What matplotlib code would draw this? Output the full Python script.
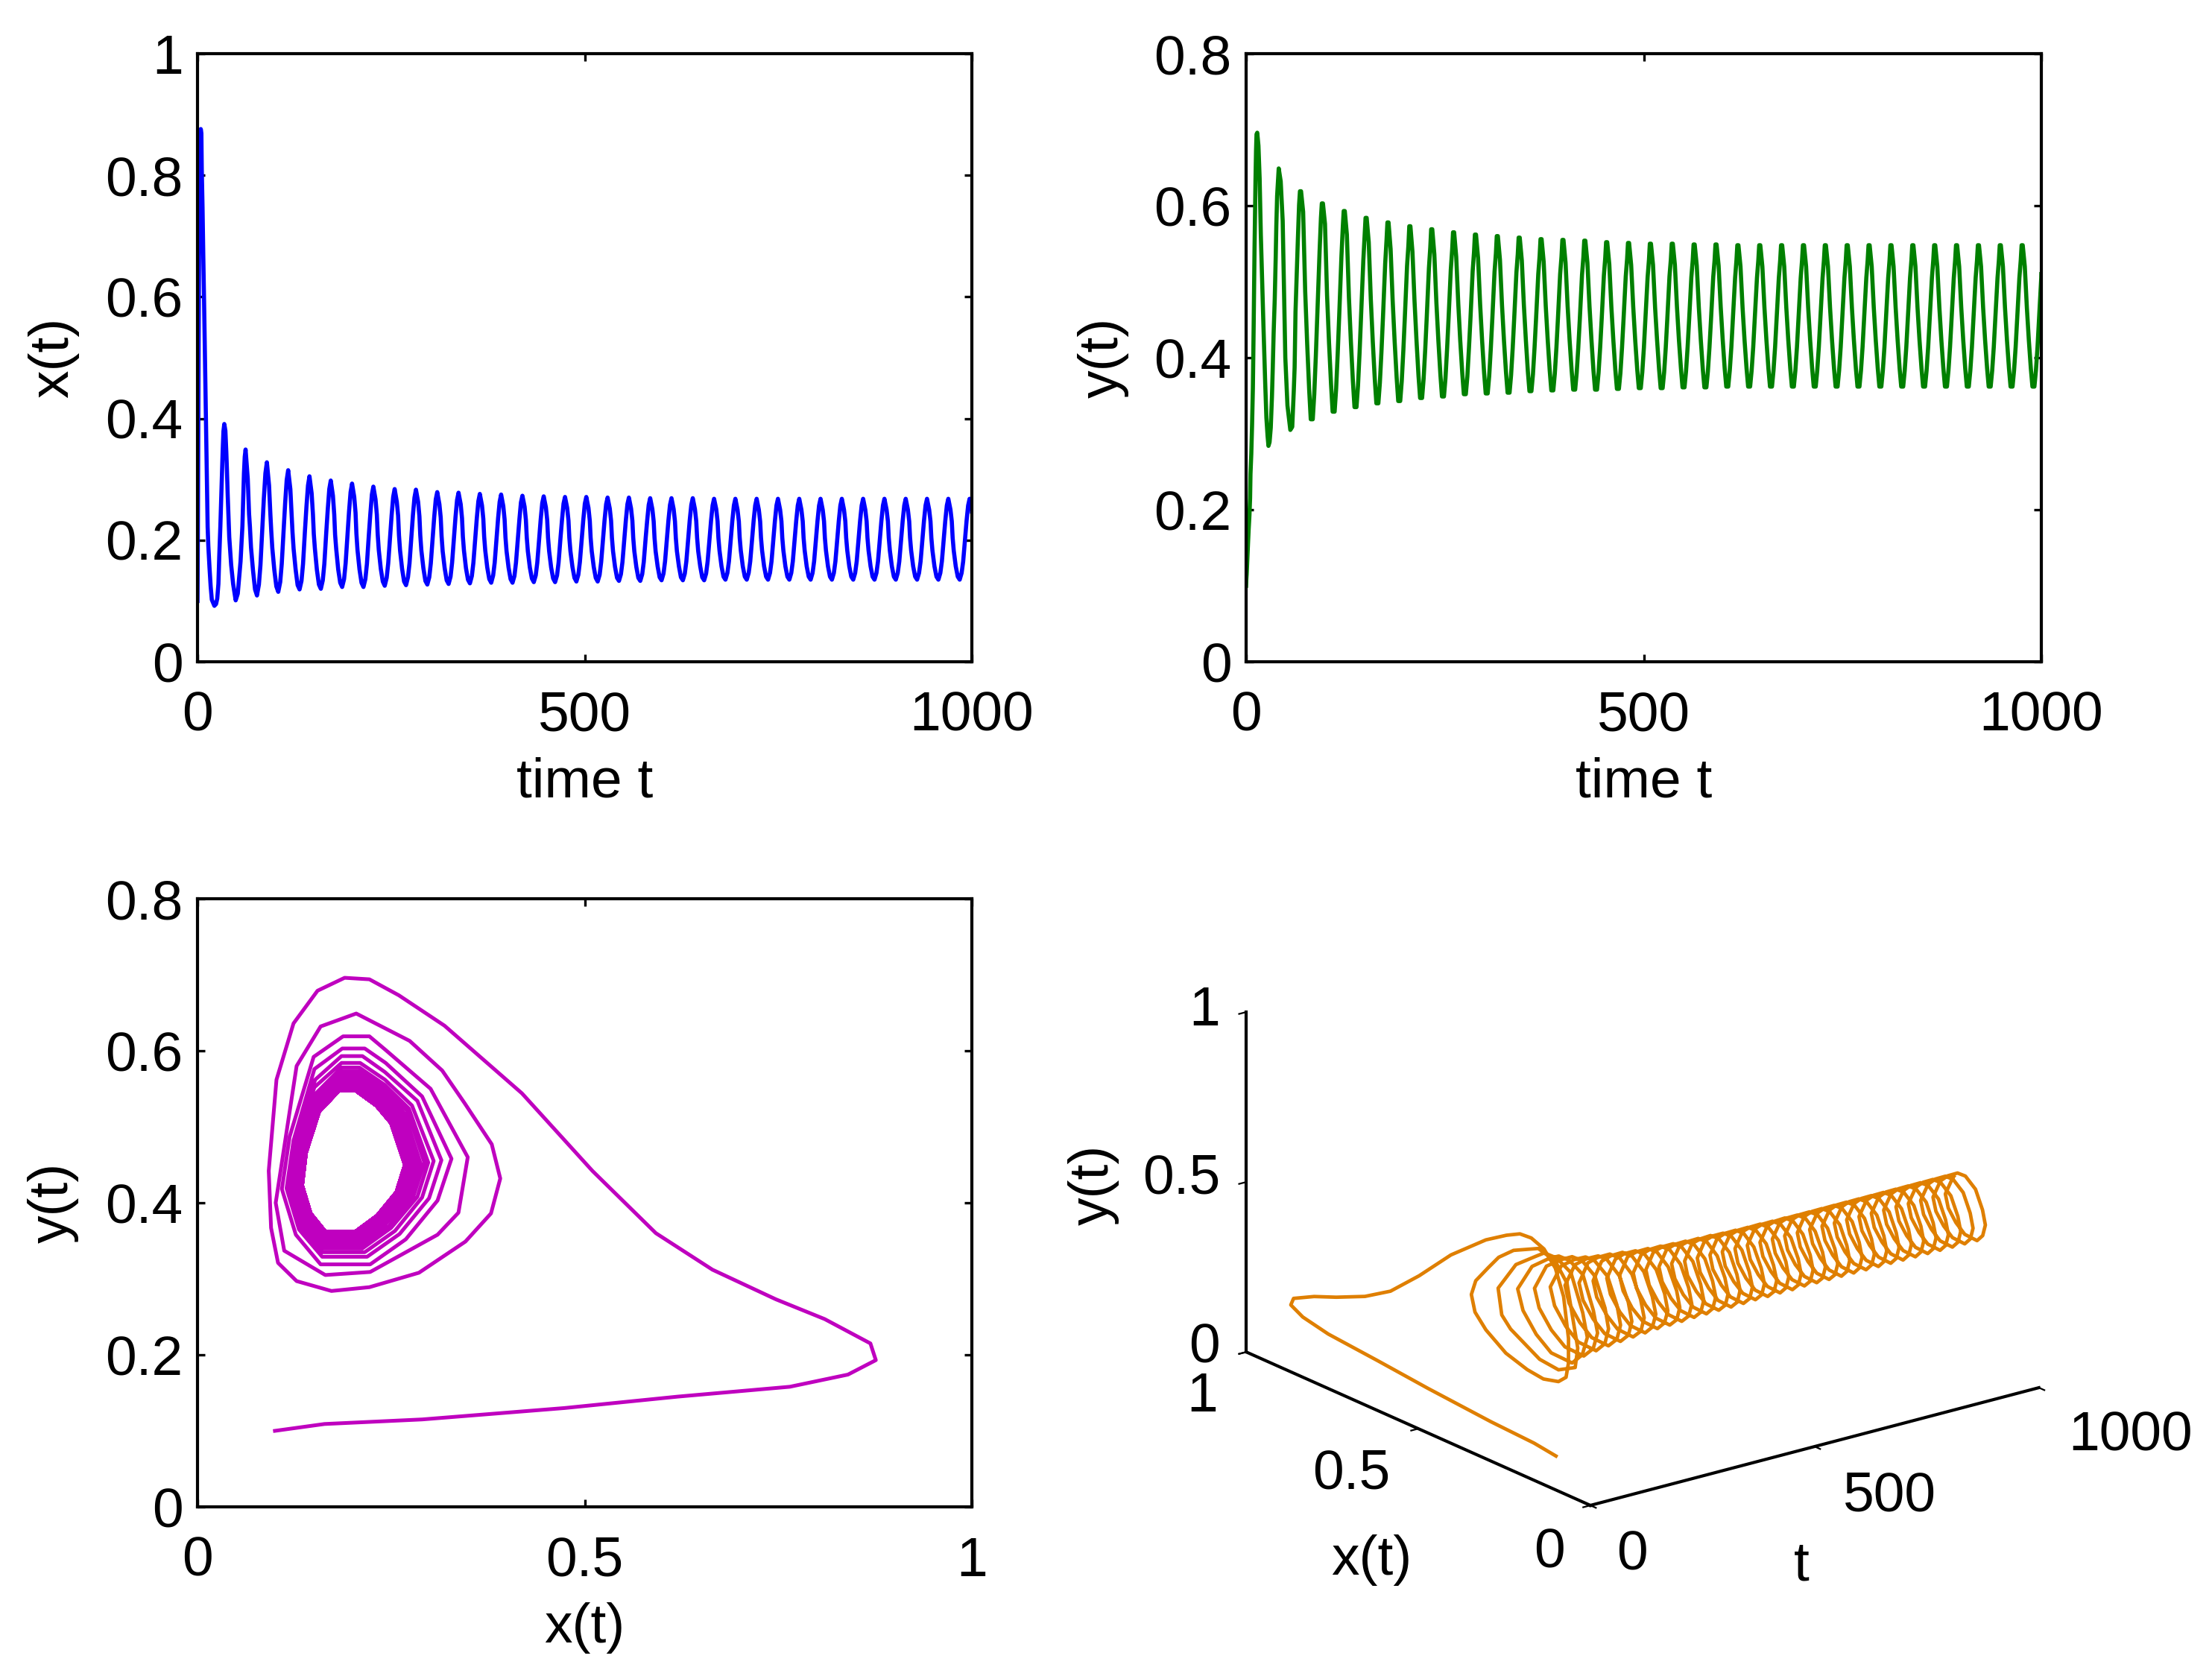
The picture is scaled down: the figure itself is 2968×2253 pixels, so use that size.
import matplotlib
matplotlib.use('Agg')
import matplotlib.pyplot as plt

plt.rcParams['font.family'] = ['Liberation Sans', 'DejaVu Sans']
plt.rcParams['font.size'] = 27

# trajectory
t_vals = [
    0, 0.3, 0.7, 1.3, 1.8, 2.5, 3.2, 4.2, 5, 5.5, 6.5, 7.5, 8.5, 9.5, 10.6, 11.8,
    12.5, 13.1, 14, 15.5, 17, 18.5, 21.8, 24, 25.5, 27, 28.1, 29.5, 31, 32.5, 33.5,
    34.6, 36, 37.2, 38, 39, 41, 43.5, 46, 49.3, 52, 55.6, 58, 60, 61,
    62.1, 64.9, 66.6, 67.7, 69.1, 71.7, 74.3, 76.8, 79.3, 81.3, 83.8, 85.7, 87.7,
    89.6, 92.4, 94.1, 95.2, 96.6, 99.2, 101.8, 104.3, 106.8, 108.8, 111.3, 113.2, 115.2,
    117.1, 119.9, 121.6, 122.7, 124.1, 126.7, 129.3, 131.8, 134.3, 136.3, 138.8, 140.7, 142.7,
    144.6, 147.4, 149.1, 150.2, 151.6, 154.2, 156.8, 159.3, 161.8, 163.8, 166.3, 168.2, 170.2,
    172.1, 174.9, 176.6, 177.7, 179.1, 181.7, 184.3, 186.8, 189.3, 191.3, 193.8, 195.7, 197.7,
    199.6, 202.4, 204.1, 205.2, 206.6, 209.2, 211.8, 214.3, 216.8, 218.8, 221.3, 223.2, 225.2,
    227.1, 229.9, 231.6, 232.7, 234.1, 236.7, 239.3, 241.8, 244.3, 246.3, 248.8, 250.7, 252.7,
    254.6, 257.4, 259.1, 260.2, 261.6, 264.2, 266.8, 269.3, 271.8, 273.8, 276.3, 278.2, 280.2,
    282.1, 284.9, 286.6, 287.7, 289.1, 291.7, 294.3, 296.8, 299.3, 301.3, 303.8, 305.7, 307.7,
    309.6, 312.4, 314.1, 315.2, 316.6, 319.2, 321.8, 324.3, 326.8, 328.8, 331.3, 333.2, 335.2,
    337.1, 339.9, 341.6, 342.7, 344.1, 346.7, 349.3, 351.8, 354.3, 356.3, 358.8, 360.7, 362.7,
    364.6, 367.4, 369.1, 370.2, 371.6, 374.2, 376.8, 379.3, 381.8, 383.8, 386.3, 388.2, 390.2,
    392.1, 394.9, 396.6, 397.7, 399.1, 401.7, 404.3, 406.8, 409.3, 411.3, 413.8, 415.7, 417.7,
    419.6, 422.4, 424.1, 425.2, 426.6, 429.2, 431.8, 434.3, 436.8, 438.8, 441.3, 443.2, 445.2,
    447.1, 449.9, 451.6, 452.7, 454.1, 456.7, 459.3, 461.8, 464.3, 466.3, 468.8, 470.7, 472.7,
    474.6, 477.4, 479.1, 480.2, 481.6, 484.2, 486.8, 489.3, 491.8, 493.8, 496.3, 498.2, 500.2,
    502.1, 504.9, 506.6, 507.7, 509.1, 511.7, 514.3, 516.8, 519.3, 521.3, 523.8, 525.7, 527.7,
    529.6, 532.4, 534.1, 535.2, 536.6, 539.2, 541.8, 544.3, 546.8, 548.8, 551.3, 553.2, 555.2,
    557.1, 559.9, 561.6, 562.7, 564.1, 566.7, 569.3, 571.8, 574.3, 576.3, 578.8, 580.7, 582.7,
    584.6, 587.4, 589.1, 590.2, 591.6, 594.2, 596.8, 599.3, 601.8, 603.8, 606.3, 608.2, 610.2,
    612.1, 614.9, 616.6, 617.7, 619.1, 621.7, 624.3, 626.8, 629.3, 631.3, 633.8, 635.7, 637.7,
    639.6, 642.4, 644.1, 645.2, 646.6, 649.2, 651.8, 654.3, 656.8, 658.8, 661.3, 663.2, 665.2,
    667.1, 669.9, 671.6, 672.7, 674.1, 676.7, 679.3, 681.8, 684.3, 686.3, 688.8, 690.7, 692.7,
    694.6, 697.4, 699.1, 700.2, 701.6, 704.2, 706.8, 709.3, 711.8, 713.8, 716.3, 718.2, 720.2,
    722.1, 724.9, 726.6, 727.7, 729.1, 731.7, 734.3, 736.8, 739.3, 741.3, 743.8, 745.7, 747.7,
    749.6, 752.4, 754.1, 755.2, 756.6, 759.2, 761.8, 764.3, 766.8, 768.8, 771.3, 773.2, 775.2,
    777.1, 779.9, 781.6, 782.7, 784.1, 786.7, 789.3, 791.8, 794.3, 796.3, 798.8, 800.7, 802.7,
    804.6, 807.4, 809.1, 810.2, 811.6, 814.2, 816.8, 819.3, 821.8, 823.8, 826.3, 828.2, 830.2,
    832.1, 834.9, 836.6, 837.7, 839.1, 841.7, 844.3, 846.8, 849.3, 851.3, 853.8, 855.7, 857.7,
    859.6, 862.4, 864.1, 865.2, 866.6, 869.2, 871.8, 874.3, 876.8, 878.8, 881.3, 883.2, 885.2,
    887.1, 889.9, 891.6, 892.7, 894.1, 896.7, 899.3, 901.8, 904.3, 906.3, 908.8, 910.7, 912.7,
    914.6, 917.4, 919.1, 920.2, 921.6, 924.2, 926.8, 929.3, 931.8, 933.8, 936.3, 938.2, 940.2,
    942.1, 944.9, 946.6, 947.7, 949.1, 951.7, 954.3, 956.8, 959.3, 961.3, 963.8, 965.7, 967.7,
    969.6, 972.4, 974.1, 975.2, 976.6, 979.2, 981.8, 984.3, 986.8, 988.8, 991.3, 993.2, 995.2,
    997.1, 999.9, 1000,
]

x_vals = [
    .1, .164, .29, .474, .62, .765, .84, .876, .869, .81, .747, .665, .592, .51, .419, .319,
    .26, .222, .19, .155, .124, .102, .092, .095, .104, .128, .173, .222, .286, .346, .379,
    .391, .38, .345, .316, .274, .205, .159, .128, .101, .112, .165, .223, .31, .337,
    .349, .301, .243, .222, .188, .150, .119, .109, .127, .159, .223, .269, .310,
    .328, .290, .243, .216, .187, .151, .124, .115, .131, .161, .219, .261, .299,
    .315, .284, .242, .213, .186, .152, .126, .119, .133, .161, .216, .255, .290,
    .305, .277, .242, .210, .186, .151, .127, .120, .134, .161, .213, .250, .284,
    .298, .273, .242, .209, .186, .152, .130, .123, .136, .162, .211, .247, .279,
    .293, .271, .245, .211, .184, .152, .130, .123, .136, .161, .209, .243, .275,
    .288, .267, .242, .210, .184, .153, .132, .125, .138, .162, .208, .241, .271,
    .284, .263, .240, .208, .183, .153, .132, .126, .139, .162, .208, .241, .270,
    .283, .263, .239, .208, .183, .154, .133, .127, .139, .162, .206, .238, .267,
    .279, .259, .237, .207, .182, .154, .134, .128, .140, .163, .206, .238, .266,
    .278, .259, .236, .206, .183, .154, .135, .129, .141, .163, .205, .236, .264,
    .276, .257, .235, .206, .183, .155, .136, .130, .142, .163, .205, .236, .263,
    .275, .256, .234, .205, .182, .155, .136, .130, .141, .163, .204, .234, .262,
    .273, .255, .233, .205, .182, .155, .137, .131, .142, .163, .204, .234, .261,
    .272, .254, .233, .204, .182, .155, .137, .131, .142, .163, .204, .233, .260,
    .271, .253, .232, .204, .182, .156, .138, .132, .143, .164, .204, .233, .260,
    .271, .253, .232, .204, .182, .156, .138, .132, .143, .164, .204, .233, .259,
    .270, .252, .232, .204, .182, .156, .138, .133, .144, .164, .204, .233, .259,
    .270, .252, .232, .204, .182, .156, .138, .133, .144, .164, .204, .232, .258,
    .269, .251, .231, .204, .182, .157, .139, .134, .145, .165, .204, .233, .258,
    .269, .251, .231, .204, .182, .157, .139, .134, .145, .165, .204, .233, .258,
    .269, .251, .231, .204, .182, .157, .139, .134, .145, .165, .204, .232, .257,
    .268, .251, .231, .204, .183, .157, .140, .135, .146, .165, .204, .232, .257,

    .268, .250, .231, .204, .183, .157, .140, .135, .146, .165, .204, .232, .257,
    .268, .250, .231, .204, .183, .157, .140, .135, .146, .165, .204, .232, .257,
    .268, .250, .231, .204, .183, .157, .140, .135, .146, .165, .204, .232, .257,
    .268, .250, .231, .204, .183, .157, .140, .135, .146, .165, .204, .232, .257,
    .268, .250, .231, .204, .183, .157, .140, .135, .146, .165, .204, .232, .257,

    .268, .250, .231, .204, .183, .157, .140, .135, .146, .165, .204, .232, .257,
    .268, .250, .231, .204, .183, .157, .140, .135, .146, .165, .204, .232, .257,
    .268, .250, .231, .204, .183, .157, .140, .135, .146, .165, .204, .232, .257,
    .268, .250, .231, .204, .183, .157, .140, .135, .146, .165, .204, .232, .257,
    .268, .250, .231, .204, .183, .157, .140, .135, .146, .165, .204, .232, .257,

    .268, .250, .231, .204, .183, .157, .140, .135, .146, .165, .204, .232, .257,
    .268, .250, .247,
]

y_vals = [
    .1, .109, .115, .13, .145, .158, .174, .193, .215, .247, .273, .312, .36, .442, .544, .633,
    .673, .694, .696, .679, .636, .562, .442, .367, .321, .297, .284, .289, .308, .349, .386,
    .432, .477, .531, .574, .613, .649, .632, .58, .40, .337, .305, .309, .358, .387,
    .460, .550, .601, .619, .619, .592, .487, .418, .358, .319, .319, .352, .403,
    .458, .540, .584, .603, .603, .576, .482, .419, .365, .329, .329, .359, .406,
    .456, .534, .572, .593, .593, .562, .479, .420, .369, .335, .335, .363, .407,
    .455, .528, .562, .584, .584, .552, .477, .421, .372, .340, .340, .367, .408,
    .453, .524, .555, .578, .578, .543, .475, .421, .374, .343, .343, .369, .409,
    .453, .521, .548, .573, .573, .539, .474, .422, .376, .347, .347, .372, .410,
    .452, .518, .545, .569, .569, .536, .472, .422, .378, .349, .349, .373, .411,
    .452, .516, .542, .565, .565, .533, .471, .422, .380, .352, .352, .375, .412,
    .451, .514, .539, .562, .562, .531, .470, .422, .380, .353, .353, .376, .412,
    .451, .513, .537, .560, .560, .529, .469, .422, .381, .354, .354, .377, .412,
    .451, .512, .536, .558, .558, .528, .469, .423, .382, .356, .356, .378, .413,
    .451, .510, .534, .556, .556, .526, .468, .423, .383, .357, .357, .379, .413,
    .451, .510, .533, .555, .555, .525, .468, .423, .384, .358, .358, .380, .413,
    .450, .509, .532, .554, .554, .525, .468, .423, .383, .358, .358, .380, .413,
    .450, .508, .531, .552, .552, .523, .467, .423, .384, .359, .359, .380, .413,
    .450, .507, .530, .551, .551, .522, .467, .423, .385, .360, .360, .381, .413,
    .450, .506, .529, .550, .550, .522, .466, .423, .385, .360, .360, .381, .413,
    .450, .507, .529, .550, .550, .522, .467, .423, .386, .361, .361, .382, .414,
    .450, .506, .528, .549, .549, .521, .466, .423, .385, .361, .361, .382, .414,
    .450, .506, .528, .549, .549, .521, .467, .424, .386, .362, .362, .383, .414,

    .450, .505, .528, .548, .548, .520, .466, .423, .386, .362, .362, .383, .414,
    .450, .505, .528, .548, .548, .520, .466, .423, .386, .362, .362, .383, .414,
    .450, .505, .528, .548, .548, .520, .466, .423, .386, .362, .362, .383, .414,
    .450, .505, .528, .548, .548, .520, .466, .423, .386, .362, .362, .383, .414,
    .450, .505, .528, .548, .548, .520, .466, .423, .386, .362, .362, .383, .414,

    .450, .505, .528, .548, .548, .520, .466, .423, .386, .362, .362, .383, .414,
    .450, .505, .528, .548, .548, .520, .466, .423, .386, .362, .362, .383, .414,
    .450, .505, .528, .548, .548, .520, .466, .423, .386, .362, .362, .383, .414,
    .450, .505, .528, .548, .548, .520, .466, .423, .386, .362, .362, .383, .414,
    .450, .505, .528, .548, .548, .520, .466, .423, .386, .362, .362, .383, .414,

    .450, .505, .528, .548, .548, .520, .466, .423, .386, .362, .362, .383, .414,
    .450, .505, .528, .548, .548, .520, .466, .423, .386, .362, .362, .383, .414,
    .450, .505, .528, .548, .548, .520, .466, .423, .386, .362, .362, .383, .414,
    .450, .505, .528, .548, .548, .520, .466, .423, .386, .362, .362, .383, .414,
    .450, .505, .510,
]

time_ticks = [0, 500, 1000]
time_labels = ['0', '500', '1000']
unit_ticks = [0, 0.5, 1]
unit_labels = ['0', '0.5', '1']
x_ticks = [0, 0.2, 0.4, 0.6, 0.8, 1]
x_labels = ['0', '0.2', '0.4', '0.6', '0.8', '1']
y_ticks = [0, 0.2, 0.4, 0.6, 0.8]
y_labels = ['0', '0.2', '0.4', '0.6', '0.8']

W, H = 2968, 2253
fig = plt.figure(figsize=(W / 200, H / 200), dpi=200)


def panel(left, right, top, bottom):
    ax = fig.add_axes([left / W, 1 - bottom / H, (right - left) / W, (bottom - top) / H])
    for s in ax.spines.values():
        s.set_linewidth(1.5)
    ax.tick_params(direction='in', top=True, right=True, length=3.6, width=1.2)
    ax.tick_params(axis='x', pad=14)
    ax.tick_params(axis='y', pad=7)
    return ax


def place_text(px, py, s, **kw):
    fig.text(px / W, 1 - py / H, s, va='center', **kw)


ax1 = panel(265, 1304, 72, 888)
ax1.plot(t_vals, x_vals, color='#0000ff', linewidth=2.0)
ax1.set_xlim(0, 1000)
ax1.set_ylim(0, 1)
ax1.set_xticks(time_ticks, time_labels)
ax1.set_yticks(x_ticks, x_labels)
ax1.set_xlabel('time t', va='center')
ax1.set_ylabel('x(t)', va='center')
ax1.xaxis.set_label_coords(0.5, -0.199)
ax1.yaxis.set_label_coords(-0.186, 0.5)

ax2 = panel(1672, 2739, 72, 888)
ax2.plot(t_vals, y_vals, color='#008000', linewidth=2.0)
ax2.set_xlim(0, 1000)
ax2.set_ylim(0, 0.8)
ax2.set_xticks(time_ticks, time_labels)
ax2.set_yticks(y_ticks, y_labels)
ax2.set_xlabel('time t', va='center')
ax2.set_ylabel('y(t)', va='center')
ax2.xaxis.set_label_coords(0.5, -0.199)
ax2.yaxis.set_label_coords(-0.18, 0.5)

ax3 = panel(265, 1304, 1206, 2022)
ax3.plot(x_vals, y_vals, color='#bf00bf', linewidth=1.8)
ax3.set_xlim(0, 1)
ax3.set_ylim(0, 0.8)
ax3.set_xticks(unit_ticks, unit_labels)
ax3.set_yticks(y_ticks, y_labels)
ax3.set_xlabel('x(t)', va='center')
ax3.set_ylabel('y(t)', va='center')
ax3.xaxis.set_label_coords(0.5, -0.199)
ax3.yaxis.set_label_coords(-0.186, 0.5)

# 3d panel, same view as matlab's view(-37.5, 20)
S = 1143
ax4 = fig.add_axes([1617 / W, 56 / H, S / W, S / H], projection='3d', proj_type='ortho')
ax4.patch.set_visible(False)
ax4.view_init(elev=20, azim=-127.5)
ax4.set_box_aspect((1, 1, 0.64))
ax4.plot(t_vals, x_vals, y_vals, color='#df7f00', linewidth=1.7)
ax4.set_xlim(0, 1000, view_margin=0)
ax4.set_ylim(0, 1, view_margin=0)
ax4.set_zlim(0, 1, view_margin=0)
ax4.set_xticks(time_ticks, ['', '', ''])
ax4.set_yticks(unit_ticks, ['', '', ''])
ax4.set_zticks(unit_ticks, ['', '', ''])
ax4.grid(False)
for axis in (ax4.xaxis, ax4.yaxis, ax4.zaxis):
    axis.pane.set_visible(False)
    axis.line.set_linewidth(1.5)
    axis.line.set_color('k')
    axis._axinfo['tick']['inward_factor'] = 0.2
    axis._axinfo['tick']['outward_factor'] = 0
ax4.tick_params(width=1.2)

# mplot3d cannot place these the way matlab does, so put them by hand
for py, s in zip((1357, 1582, 1809), unit_labels[::-1]):
    place_text(1637, py, s, ha='right')
for px, py, s in zip((1613, 1813, 2079), (1875, 1978, 2084), unit_labels[::-1]):
    place_text(px, py, s, ha='center')
for px, py, s in zip((2190, 2535, 2859), (2087, 2008, 1927), time_labels):
    place_text(px, py, s, ha='center')
place_text(1467, 1590, 'y(t)', ha='center', rotation=90)
place_text(1840, 2093, 'x(t)', ha='center')
place_text(2417, 2101, 't', ha='center')

fig.savefig('out.png', dpi=200)
